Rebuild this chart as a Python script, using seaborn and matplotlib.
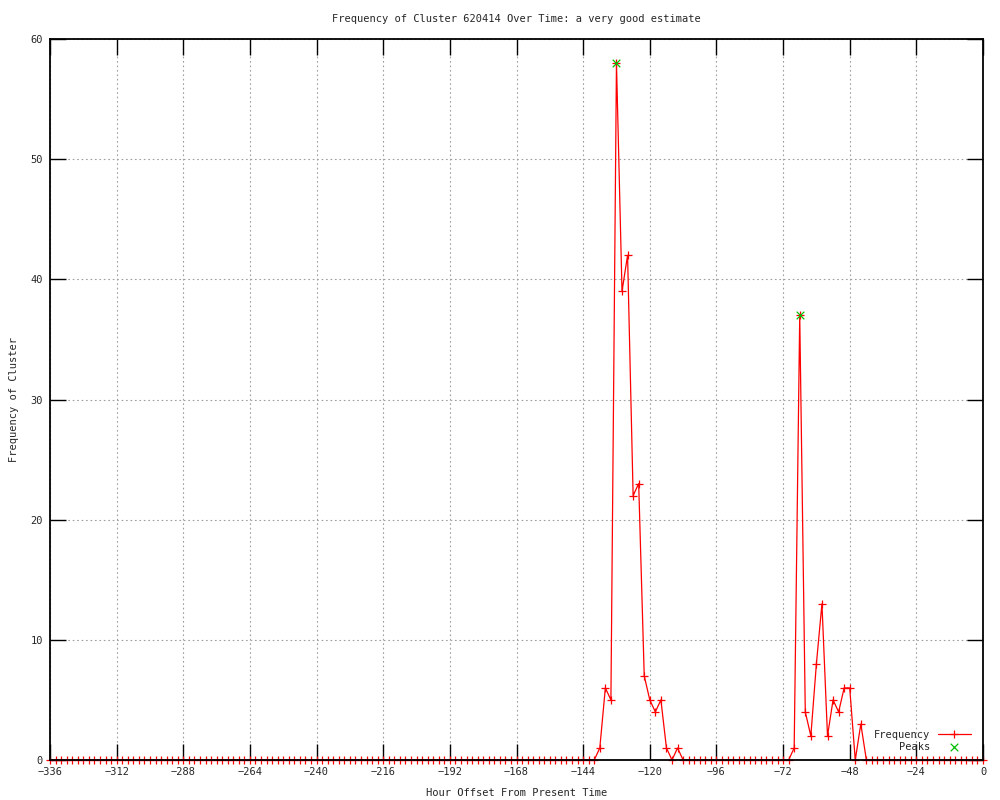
import matplotlib
matplotlib.use("Agg")
import matplotlib.pyplot as plt
import seaborn as sns
import pandas as pd

# ---- data ----
hours = list(range(-336, 1, 2))
counts = (
    [0, 0, 0, 0, 0, 0, 0, 0, 0, 0, 0, 0, 0, 0, 0, 0, 0, 0, 0, 0,
     0, 0, 0, 0, 0, 0, 0, 0, 0, 0, 0, 0, 0, 0, 0, 0, 0, 0, 0, 0,
     0, 0, 0, 0, 0, 0, 0, 0, 0, 0, 0, 0, 0, 0, 0, 0, 0, 0, 0, 0,
     0, 0, 0, 0, 0, 0, 0, 0, 0, 0, 0, 0, 0, 0, 0, 0, 0, 0, 0, 0,
     0, 0, 0, 0, 0, 0, 0, 0, 0, 0, 0, 0, 0, 0, 0, 0, 0, 0, 0]      # -336 .. -140
    + [1, 6, 5, 58, 39, 42, 22, 23, 7, 5, 4, 5, 1, 0, 1]           # -138 .. -110
    + [0, 0, 0, 0, 0, 0, 0, 0, 0, 0, 0, 0, 0, 0, 0, 0, 0, 0, 0, 0]  # -108 .. -70
    + [1, 37, 4, 2, 8, 13, 2, 5, 4, 6, 6, 0, 3]                    # -68 .. -44
    + [0, 0, 0, 0, 0, 0, 0, 0, 0, 0, 0, 0, 0, 0, 0, 0, 0, 0, 0, 0, 0, 0]  # -42 .. 0
)
peak_hours = [-132, -66]
peak_counts = [58, 37]

x_ticks = list(range(-336, 1, 24))
y_ticks = list(range(0, 61, 10))

title = "Frequency of Cluster 620414 Over Time: a very good estimate"
xlabel = "Hour Offset From Present Time"
ylabel = "Frequency of Cluster"

df = pd.DataFrame({"hour": hours, "count": counts})
pk = pd.DataFrame({"hour": peak_hours, "count": peak_counts})

sns.set_style("white")
plt.rcParams["font.family"] = ["DejaVu Sans Mono", "DejaVu Sans"]
plt.rcParams["font.size"] = 7.5

fig = plt.figure(figsize=(10, 8), dpi=100)
ax = fig.add_axes([0.05, 0.05, 0.933, 0.90125])

sns.lineplot(data=df, x="hour", y="count", ax=ax, color="red", lw=0.9,
             marker="+", markersize=6, markeredgewidth=0.9, markeredgecolor="red",
             label="Frequency", clip_on=False, zorder=2)
sns.scatterplot(data=pk, x="hour", y="count", ax=ax, color="#00c000", marker="x",
                s=30, linewidth=0.9, label="Peaks", zorder=3, clip_on=False)

ax.set_xlim(-336, 0)
ax.set_ylim(0, 60)
ax.set_xticks(x_ticks)
ax.set_yticks(y_ticks)
ax.set_xticklabels([("\u2212%d" % -t) if t < 0 else "%d" % t for t in x_ticks])
ax.grid(True, color="#a0a0a0", linestyle=(0, (1.5, 2.5)), linewidth=0.8)
ax.tick_params(direction="in", length=11.5, width=1, color="black",
               top=True, right=True, bottom=True, left=True,
               labelsize=7.5, pad=5)
for s in ax.spines.values():
    s.set_color("black")
    s.set_linewidth(1.3)
    s.set_zorder(5)

ax.set_title(title, fontsize=7.5, pad=12)
ax.set_xlabel(xlabel, fontsize=7.5, labelpad=8)
ax.set_ylabel(ylabel, fontsize=7.5, labelpad=8)

leg = ax.legend(loc="lower right", bbox_to_anchor=(0.996, 0.0), frameon=False,
                markerfirst=False, handlelength=3.2, handletextpad=0.7,
                labelspacing=0.2, fontsize=7.5, borderpad=0.3)

fig.savefig("out.png", dpi=100)
